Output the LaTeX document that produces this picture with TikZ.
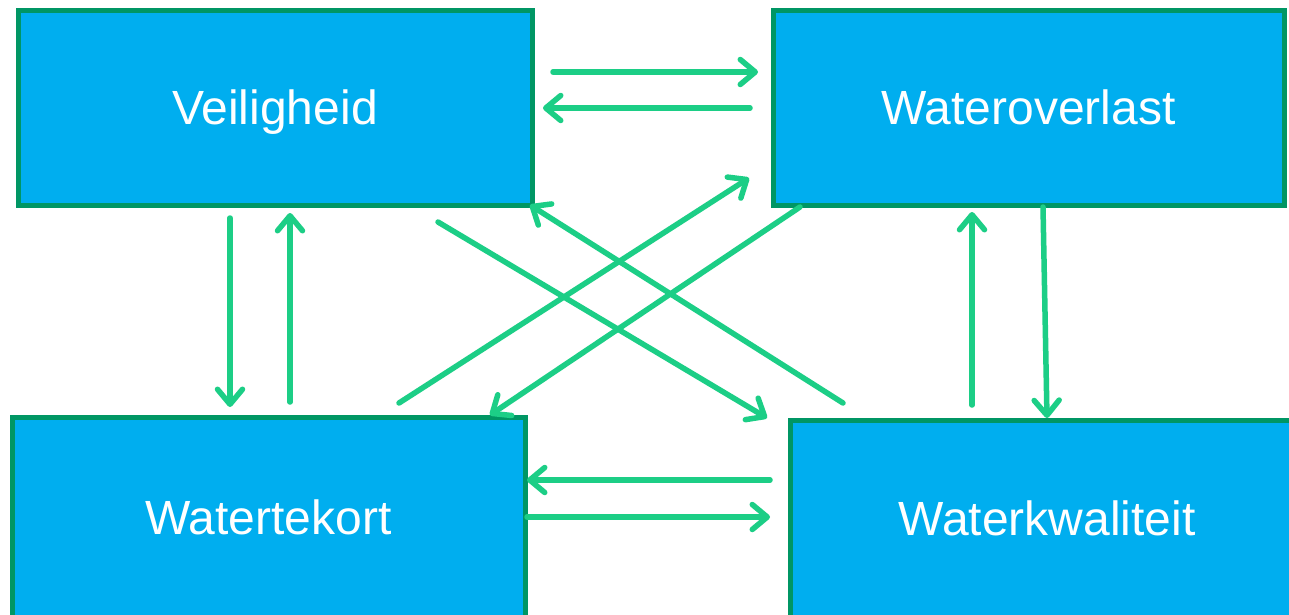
\documentclass[tikz,border=0pt]{standalone}
\usepackage{fontspec}
\setmainfont{Liberation Sans}
\usetikzlibrary{arrows.meta,calc}
\definecolor{boxfill}{RGB}{0,174,239}
\definecolor{boxline}{RGB}{0,150,100}
\definecolor{arrowgreen}{RGB}{28,206,134}
\tikzset{
  box/.style={draw=boxline, line width=5pt, fill=boxfill, rectangle, inner sep=0pt, outer sep=0pt,
    text=white, font=\fontsize{48}{50}\selectfont, text height=34.4pt, text depth=0pt},
  arr/.style={draw=arrowgreen, line width=5.5pt, line cap=round,
    -{Straight Barb[length=15pt,width=25pt,line cap=round,line join=round]}}
}
\begin{document}
\begin{tikzpicture}[x=1pt,y=-1pt]
\useasboundingbox (0,0) rectangle (1289,614);
\fill[white] (0,0) rectangle (1289,614);
\begin{scope}
\clip (0,0) rectangle (1289,614);
\node[box, minimum width=514pt, minimum height=195pt] (V) at (275,107.5) {Veiligheid};
\node[box, minimum width=511pt, minimum height=195pt] (O) at (1028.5,107.5) {Wateroverlast};
\node[box, minimum width=513pt, minimum height=200pt] (T) at (268.5,517) {Watertekort};
\node[box, minimum width=514pt, minimum height=197pt] (K) at (1047,518.5) {Waterkwaliteit};
\end{scope}
% Veiligheid <-> Wateroverlast
\draw[arr] ($(V.east)+(21,-35.5)$) -- ($(O.west)+(-15,-35.5)$);
\draw[arr] ($(O.west)+(-23,0.5)$) -- ($(V.east)+(11,0.5)$);
% diagonals
\draw[arr] ($(T.north)+(130.5,-14)$) -- ($(O.south west)+(-24,-27)$);
\draw[arr] ($(O.south west)+(27,2)$) -- ($(T.north east)+(-35,-2)$);
\draw[arr] ($(V.south east)+(-94,17)$) -- ($(K.north west)+(-23,-2)$);
\draw[arr] ($(K.north west)+(53,-17)$) -- ($(V.south east)+(-2,0)$);
% Veiligheid <-> Watertekort
\draw[arr] ($(V.south)+(-45,13)$) -- ($(T.north)+(-38.5,-10)$);
\draw[arr] ($(T.north)+(21.5,-15)$) -- ($(V.south)+(15,8)$);
% Wateroverlast <-> Waterkwaliteit
\draw[arr] ($(O.south)+(14.5,2)$) -- ($(K.north)+(0,-2)$);
\draw[arr] ($(K.north)+(-75,-15)$) -- ($(O.south)+(-56.5,7)$);
% Watertekort <-> Waterkwaliteit
\draw[arr] ($(K.west)+(-20,-38.5)$) -- ($(T.east)+(2,-37)$);
\draw[arr] ($(T.east)+(2,0)$) -- ($(K.west)+(-20,-1.5)$);
\end{tikzpicture}
\end{document}
